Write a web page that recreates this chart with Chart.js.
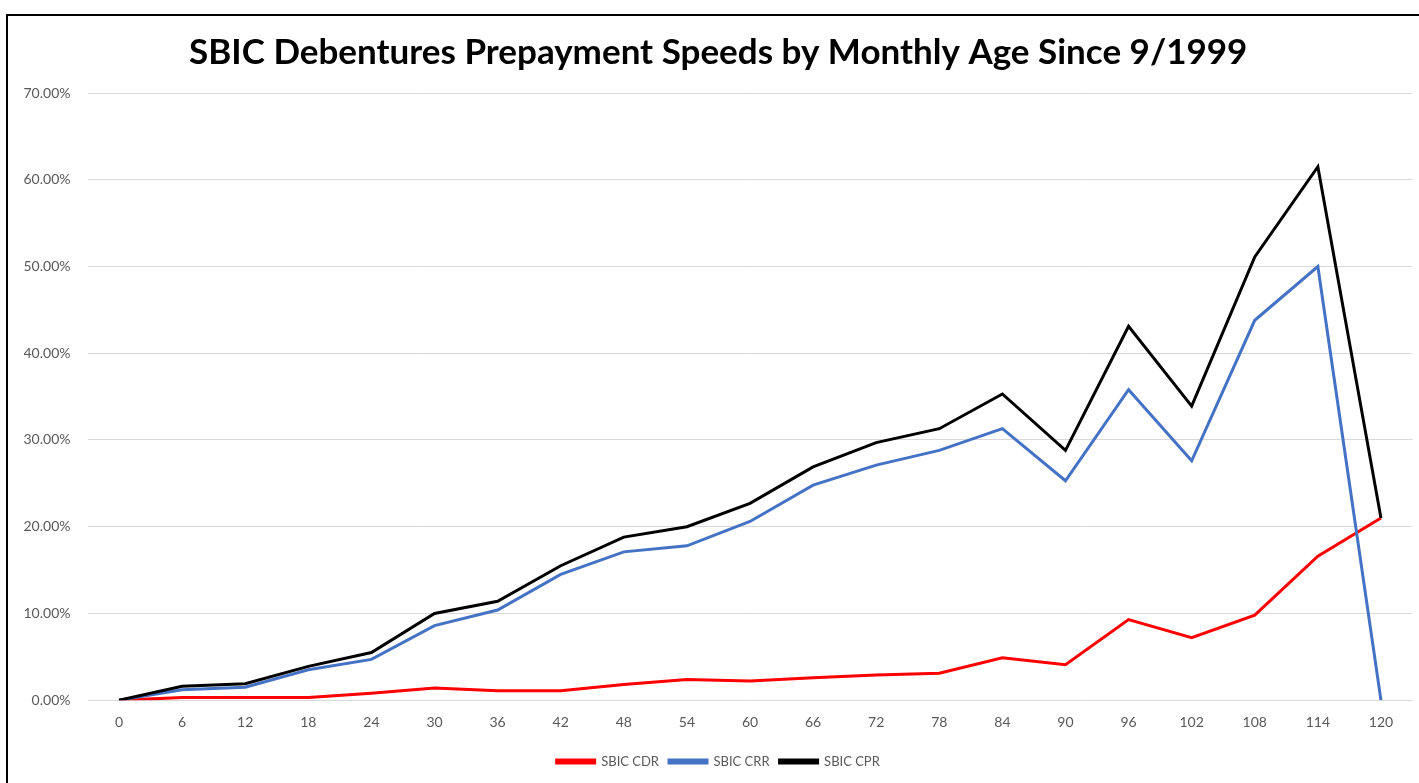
<!DOCTYPE html>
<html>
<head>
<meta charset="utf-8">
<script src="https://cdn.jsdelivr.net/npm/chart.js@4/dist/chart.umd.min.js"></script>
<style>
  body { margin: 0; background: #fff; overflow: hidden; }
  #frame {
    position: absolute; left: 6px; top: 14px;
    width: 1440px; height: 780px;
    border: 2px solid #000; background: #fff;
  }
  #myChart { margin-left: 16px; display: block; }
</style>
</head>
<body>
<div id="frame"><canvas id="myChart" width="1420" height="780"></canvas></div>
<script>
// monthly age since 9/1999
var ages = ['0','6','12','18','24','30','36','42','48','54','60','66','72','78','84','90','96','102','108','114','120'];

// speeds in percent
var cdr = [0, 0.3, 0.3, 0.3, 0.8, 1.4, 1.1, 1.1, 1.8, 2.4, 2.2, 2.6, 2.9, 3.1, 4.9, 4.1, 9.3, 7.2, 9.8, 16.6, 21.0];
var crr = [0, 1.2, 1.5, 3.5, 4.7, 8.6, 10.4, 14.5, 17.1, 17.8, 20.6, 24.8, 27.1, 28.8, 31.3, 25.3, 35.8, 27.6, 43.8, 50.0, 0];
var cpr = [0, 1.6, 1.9, 3.9, 5.5, 10.0, 11.4, 15.5, 18.8, 20.0, 22.7, 26.9, 29.7, 31.3, 35.3, 28.8, 43.1, 33.9, 51.1, 61.5, 21.0];

var yMax = 70;
var yStep = 10;

var tickFont = { family: 'Lato', size: 14 };

var $ctx = document.getElementById('myChart');
var myChart = new Chart($ctx, {
  type: 'line',
  data: {
    labels: ages,
    datasets: [
      { label: 'SBIC CDR', data: cdr, borderColor: '#ff0000', backgroundColor: '#ff0000', order: 3 },
      { label: 'SBIC CRR', data: crr, borderColor: '#4472c4', backgroundColor: '#4472c4', order: 2 },
      { label: 'SBIC CPR', data: cpr, borderColor: '#000000', backgroundColor: '#000000', order: 1 }
    ]
  },
  options: {
    responsive: false,
    animation: false,
    elements: {
      line: { borderWidth: 3, tension: 0 },
      point: { radius: 0 }
    },
    layout: { padding: { left: 0, right: 31.5, top: 0, bottom: 18 } },
    plugins: {
      title: {
        display: true,
        text: 'SBIC Debentures Prepayment Speeds by Monthly Age Since 9/1999',
        color: '#000',
        font: { family: 'Lato', size: 35, weight: 'bold' },
        padding: { top: 16, bottom: 19 }
      },
      legend: {
        position: 'bottom',
        reverse: true,
        labels: {
          boxWidth: 38,
          boxHeight: 3,
          padding: 10,
          color: '#595959',
          font: { family: 'Lato', size: 13 }
        }
      },
      tooltip: { enabled: false }
    },
    scales: {
      x: {
        offset: true,
        grid: { display: false, drawTicks: false },
        border: { display: false },
        ticks: { color: '#595959', font: tickFont, padding: 14, maxRotation: 0, autoSkip: false }
      },
      y: {
        min: 0,
        max: yMax,
        grid: { color: '#d9d9d9', lineWidth: 1, drawTicks: false },
        border: { display: false },
        afterFit: function (scale) { scale.width = 63.5; },
        ticks: {
          stepSize: yStep,
          color: '#595959',
          font: tickFont,
          padding: 17,
          callback: function (v) { return v.toFixed(2) + '%'; }
        }
      }
    }
  }
});
</script>
</body>
</html>
